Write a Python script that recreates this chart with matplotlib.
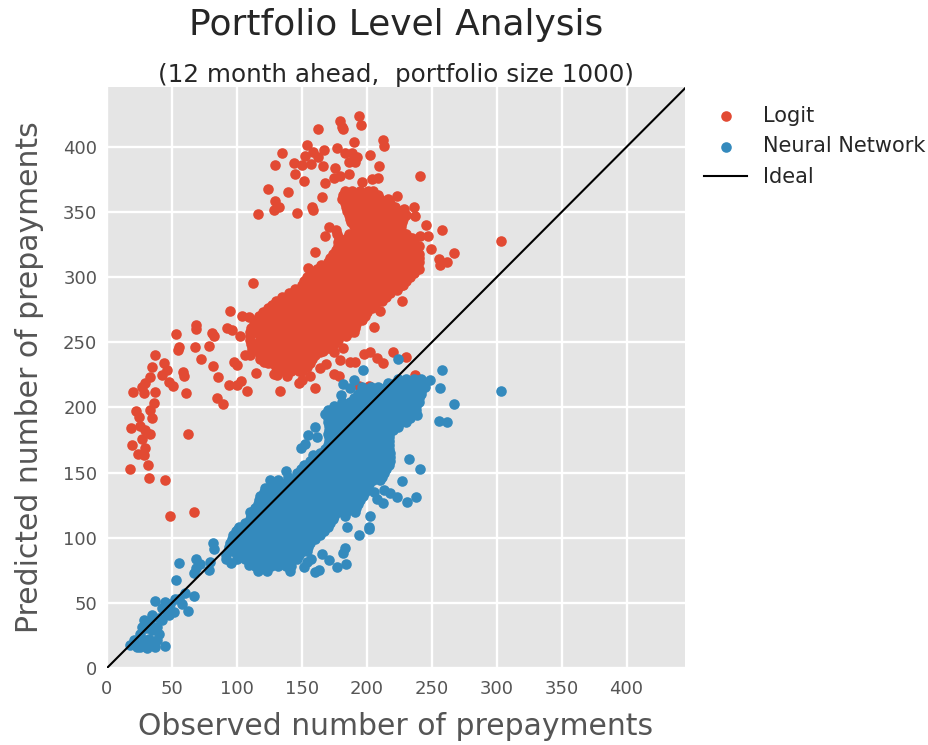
import matplotlib
matplotlib.use("Agg")
import matplotlib.pyplot as plt

# scattered points
logit_x = [193.8, 179.7, 195.6, 181.5, 181, 162.5, 212.6, 213.6, 190.5, 154, 177, 167.4, 134.5, 158.4, 152.8, 202.3,
           192.5, 188.7, 183.6, 129.7, 143.8, 150, 157.4, 166.4, 162.5, 175.4, 191.3, 186, 209.5, 144.5, 151.5, 186,
           179.7, 174.6, 168.2, 240.6, 209, 204, 196.4, 123.7, 139.4, 165.6, 129.7, 132.7, 128.4, 116.6, 146.3, 157.6,
           158.4, 223.6, 236.5, 237.5, 228.5, 245.4, 257.8, 241.3, 247, 249.5, 266.8, 255.5, 261.9, 256, 303.7, 168,
           170.7, 160.5, 154.8, 112.7, 227.5, 223.6, 210.5, 205.4, 94.5, 104, 109, 92.4, 96.3, 102.7, 68.5, 68.5,
           53.4, 80.9, 82.7, 55.2, 54.7, 67.5, 78.6, 72.7, 36.7, 43.6, 34.7, 81.6, 58.5, 59.6, 85.5, 46.2,
           42.4, 47.5, 50.8, 33.4, 29.5, 27, 20, 28.2, 37.2, 60.6, 94.2, 103.5, 100, 107.6, 84.7, 89.6,
           36, 22.3, 33.4, 24.4, 34.7, 18.5, 25.7, 29.5, 32.9, 27, 62.6, 19.5, 29.5, 23.6, 28.8, 31.6,
           17.5, 32.6, 44.7, 48.5, 66.8, 98, 100, 106.5, 114.5, 120.7, 128.4, 131, 133.5, 138.6, 147.6, 150,
           156.6, 160.5, 164.3, 168.7, 174.6, 181.5, 179.7, 174.6, 178.4, 187.4, 191, 197.7, 202.8, 208, 212.6, 220.3,
           230.5, 193.8, 201.5, 237.5, 164.3]
logit_y = [424, 420, 417, 413.5, 415, 414, 405, 401, 404, 401.5, 399.5, 398, 395, 396, 393, 393.6,
           392, 395, 395.6, 386, 388, 386, 386.7, 385.7, 392, 384, 388.5, 388.5, 385.4, 379, 374, 379,
           378, 376.5, 372, 377.5, 376.5, 375.7, 373, 368, 365.5, 361.6, 358.6, 353.5, 351.7, 348.3, 349.6, 354,
           351.7, 362, 353.5, 347, 352.7, 340, 336.6, 332, 331.5, 321.7, 318.7, 314.3, 311.3, 309, 327.6, 332,
           338.6, 319, 307, 295.4, 282, 290, 274, 262, 273.7, 270, 269.6, 261, 259.3, 254.7, 263.4, 260,
           256.3, 257.5, 255, 246.5, 244, 246.5, 247, 237, 240, 234.5, 231, 231.5, 227.4, 224.3, 223.5, 228.6,
           225, 219.7, 216.4, 223.5, 218.4, 216, 211.5, 210.8, 212, 211, 217, 220.5, 217, 212.8, 207.4, 202.8,
           203.3, 197.4, 197.7, 193, 191.8, 184, 185.4, 182.8, 179.7, 176, 180, 171, 168.7, 164.4, 163.6, 155.6,
           152.6, 146, 144.4, 116.4, 120, 235, 232.5, 240, 226.6, 235, 225.6, 225, 212.8, 224, 218.4, 221,
           224, 215.3, 230, 233.2, 242.7, 245.3, 236.3, 226, 224, 235, 235, 241.4, 242.7, 237.6, 233.8, 242.7,
           238.4, 216.6, 216.6, 225, 242.7]

nn_x = [223.9, 197.4, 257.8, 190.5, 181.8, 187, 180.5, 303.7, 266.8, 256, 249, 255.5, 261.9, 238.8, 223.9, 160.5,
        154.8, 149.4, 152.8, 161.7, 158.7, 137.6, 232.6, 240.6, 227.5, 237.7, 230.6, 223.4, 218.2, 213, 205.4, 212.6,
        208, 202.8, 201.5, 201.5, 193.8, 184.9, 183.6, 181.8, 165.6, 170.7, 177.2, 184.3, 160.5, 163, 151.5, 154,
        157.1, 140.7, 123.2, 116, 109.1, 95.5, 81.6, 82.7, 100.6, 110.4, 118, 125.8, 122, 68.8, 55.7, 79.6,
        71.9, 78.8, 67.3, 68.8, 53.4, 36.7, 44.9, 52.6, 60.3, 66.8, 57.8, 62.4, 51.3, 47.5, 42.4, 34.7,
        28.2, 27, 38.5, 39.8, 25.7, 32, 38.5, 20.5, 18, 25.7, 30.8, 37.2, 44.7, 28.2, 23, 36,
        43.6, 48.8, 55.2, 46, 39.8, 33, 30, 22, 42, 35]
nn_y = [237.2, 229, 229, 221.3, 217.7, 215, 209.7, 212.3, 202.3, 214.9, 221, 189.7, 189, 194.4, 184.9, 184.9,
        178.5, 169.2, 172, 177.7, 163.3, 151.5, 160.3, 152.8, 143.3, 131, 127.4, 131.5, 134, 136.7, 135.4, 126.4,
        130, 116.7, 108.5, 106.5, 101.8, 108.5, 91.8, 88, 87.2, 82.8, 77.7, 79.7, 73.8, 75, 77.7, 81.5,
        84, 74.6, 74.4, 74.4, 79, 80.8, 95.6, 91.3, 106.4, 120, 129, 144.4, 138, 83.6, 80.3, 81.5,
        79.7, 75.6, 72.6, 76.4, 67.4, 51.8, 50.8, 52.6, 57.2, 54.9, 49.5, 44.1, 43, 40.5, 36.7, 40.5,
        36.7, 31.5, 31.5, 26.4, 26.4, 22.6, 21.3, 21.3, 17.4, 16, 15, 16, 17, 21.3, 16, 20,
        47, 49.5, 53.3, 43, 38, 36, 31, 18, 46, 29]

# the two solid clouds, one row of observed values per predicted value
logit_row_y = [366, 363, 360, 357, 354, 351, 348, 345, 342, 339, 336, 333, 330, 327, 324, 321, 318, 315, 312, 309,
               306, 303, 300, 297, 294, 291, 288, 285, 282, 279, 276, 273, 270, 267, 264, 261, 258, 255, 252, 249,
               246, 243, 240, 237, 234, 231, 228]
logit_row_x = [
    [183, 189, 195, 201, 205],
    [182, 186, 192, 198, 204, 209],
    [181, 186, 192, 198, 204, 210, 216],
    [183, 189, 195, 201, 207, 213, 218],
    [184, 189, 195, 201, 207, 213, 219, 222],
    [185, 192, 198, 204, 210, 216, 222, 226],
    [186, 192, 198, 204, 210, 216, 222, 228, 230],
    [187, 195, 201, 207, 213, 219, 225, 228],
    [188, 195, 201, 207, 213, 219, 225, 227],
    [190, 198, 204, 210, 216, 222, 226],
    [176, 192, 198, 204, 210, 216, 222, 226],
    [177, 186, 195, 201, 207, 213, 219, 225, 230],
    [179, 185, 191, 197, 203, 209, 215, 221, 227, 233, 235],
    [178, 188, 194, 200, 206, 212, 218, 224, 230, 236],
    [178, 182, 188, 194, 200, 206, 212, 218, 224, 230, 236, 240],
    [176, 185, 191, 197, 203, 209, 215, 221, 227, 233, 238],
    [174, 179, 185, 191, 197, 203, 209, 215, 221, 227, 233, 239, 240],
    [172, 182, 188, 194, 200, 206, 212, 218, 224, 230, 236, 240],
    [170, 176, 182, 188, 194, 200, 206, 212, 218, 224, 230, 236, 240],
    [165, 173, 179, 185, 191, 197, 203, 209, 215, 221, 227, 233, 239],
    [162, 167, 173, 179, 185, 191, 197, 203, 209, 215, 221, 227, 233, 239, 240],
    [158, 164, 170, 176, 182, 188, 194, 200, 206, 212, 218, 224, 230, 236],
    [154, 160, 166, 172, 178, 184, 190, 196, 202, 208, 214, 220, 226, 232, 233],
    [152, 157, 163, 169, 175, 181, 187, 193, 199, 205, 211, 217, 223, 230],
    [150, 155, 161, 167, 173, 179, 185, 191, 197, 203, 209, 215, 221, 227, 228],
    [145, 152, 158, 164, 170, 176, 182, 188, 194, 200, 206, 212, 218, 223],
    [140, 146, 152, 158, 164, 170, 176, 182, 188, 194, 200, 206, 212, 218],
    [135, 143, 149, 155, 161, 167, 173, 179, 185, 191, 197, 203, 209, 215],
    [130, 137, 143, 149, 155, 161, 167, 173, 179, 185, 191, 197, 203, 209, 212],
    [127, 134, 140, 146, 152, 158, 164, 170, 176, 182, 188, 194, 200, 206],
    [124, 130, 136, 142, 148, 154, 160, 166, 172, 178, 184, 190, 196, 202, 204],
    [120, 127, 133, 139, 145, 151, 157, 163, 169, 175, 181, 187, 193, 200],
    [117, 121, 127, 133, 139, 145, 151, 157, 163, 169, 175, 181, 187, 193, 199],
    [115, 124, 130, 136, 142, 148, 154, 160, 166, 172, 178, 184, 190, 196],
    [113, 118, 124, 130, 136, 142, 148, 154, 160, 166, 172, 178, 184, 190, 192],
    [111, 121, 127, 133, 139, 145, 151, 157, 163, 169, 175, 181, 187, 191],
    [110, 115, 121, 127, 133, 139, 145, 151, 157, 163, 169, 175, 181, 187, 190],
    [110, 118, 124, 130, 136, 142, 148, 154, 160, 166, 172, 178, 184],
    [110, 118, 124, 130, 136, 142, 148, 154, 160, 166, 172, 178],
    [111, 115, 121, 127, 133, 139, 145, 151, 157, 163, 169, 175],
    [112, 115, 121, 127, 133, 139, 145, 151, 157, 163, 169, 172],
    [112, 118, 124, 130, 136, 142, 148, 154, 160, 166],
    [110, 118, 124, 130, 136, 142, 148, 154, 160],
    [118, 124, 130, 136, 142, 148, 154, 158],
    [124, 127, 133, 139, 145, 151, 156],
    [130, 136, 142, 148, 154],
    [136, 142, 148, 150],
]
nn_row_y = [222, 219, 216, 213, 210, 207, 204, 201, 198, 195, 192, 189, 186, 183, 180, 177, 174, 171, 168, 165,
            162, 159, 156, 153, 150, 147, 144, 141, 138, 135, 132, 129, 126, 123, 120, 117, 114, 111, 108, 105,
            102, 99, 96, 93, 90, 87, 84, 81, 78]
nn_row_x = [
    [224, 230, 236, 242],
    [216, 222, 228, 234, 240, 245],
    [196, 203, 209, 215, 221, 227, 233, 239, 245],
    [196, 206, 212, 218, 224, 230, 236, 242],
    [193, 200, 206, 212, 218, 224, 230, 236, 242],
    [190, 197, 203, 209, 215, 221, 227, 233, 240],
    [181, 187, 193, 199, 205, 211, 217, 223, 229, 235, 240],
    [175, 184, 190, 196, 202, 208, 214, 220, 226, 232, 238],
    [170, 178, 184, 190, 196, 202, 208, 214, 220, 226, 232, 238],
    [168, 175, 181, 187, 193, 199, 205, 211, 217, 223, 229, 236],
    [170, 175, 181, 187, 193, 199, 205, 211, 217, 223, 229, 233],
    [170, 178, 184, 190, 196, 202, 208, 214, 220, 226, 230],
    [171, 178, 184, 190, 196, 202, 208, 214, 220, 222],
    [171, 175, 181, 187, 193, 199, 205, 211, 217, 220],
    [170, 175, 181, 187, 193, 199, 205, 211, 217],
    [171, 178, 184, 190, 196, 202, 208, 214, 217],
    [171, 178, 184, 190, 196, 202, 208, 214, 217],
    [170, 175, 181, 187, 193, 199, 205, 211, 217],
    [168, 175, 181, 187, 193, 199, 205, 211, 217],
    [164, 172, 178, 184, 190, 196, 202, 208, 214, 218],
    [160, 166, 172, 178, 184, 190, 196, 202, 208, 214, 218],
    [156, 163, 169, 175, 181, 187, 193, 199, 205, 211, 218],
    [152, 157, 163, 169, 175, 181, 187, 193, 199, 205, 211, 217],
    [149, 154, 160, 166, 172, 178, 184, 190, 196, 202, 208, 215],
    [146, 154, 160, 166, 172, 178, 184, 190, 196, 202, 208, 213],
    [139, 151, 157, 163, 169, 175, 181, 187, 193, 199, 205, 212],
    [132, 139, 145, 151, 157, 163, 169, 175, 181, 187, 193, 199, 205, 210],
    [128, 136, 142, 148, 154, 160, 166, 172, 178, 184, 190, 196, 202],
    [125, 130, 136, 142, 148, 154, 160, 166, 172, 178, 184, 190, 196, 200],
    [121, 127, 133, 139, 145, 151, 157, 163, 169, 175, 181, 187, 193, 199],
    [118, 124, 130, 136, 142, 148, 154, 160, 166, 172, 178, 184, 190, 197],
    [117, 121, 127, 133, 139, 145, 151, 157, 163, 169, 175, 181, 187, 195],
    [116, 121, 127, 133, 139, 145, 151, 157, 163, 169, 175, 181, 187, 193],
    [114, 118, 124, 130, 136, 142, 148, 154, 160, 166, 172, 178, 184, 192],
    [112, 118, 124, 130, 136, 142, 148, 154, 160, 166, 172, 178, 184, 191],
    [111, 115, 121, 127, 133, 139, 145, 151, 157, 163, 169, 175, 183],
    [110, 115, 121, 127, 133, 139, 145, 151, 157, 163, 169, 174],
    [106, 112, 118, 124, 130, 136, 142, 148, 154, 160, 166, 172],
    [102, 106, 112, 118, 124, 130, 136, 142, 148, 154, 160, 166, 170],
    [99, 103, 109, 115, 121, 127, 133, 139, 145, 151, 157, 163, 167],
    [97, 103, 109, 115, 121, 127, 133, 139, 145, 151, 157, 164],
    [96, 100, 106, 112, 118, 124, 130, 136, 142, 148, 154, 160],
    [95, 100, 106, 112, 118, 124, 130, 136, 142, 148, 154, 156],
    [94, 97, 103, 109, 115, 121, 127, 133, 139, 145, 151, 155],
    [93, 97, 103, 109, 115, 121, 127, 133, 139, 145, 151, 154],
    [92, 100, 106, 112, 118, 124, 130, 136, 142, 148],
    [92, 100, 106, 112, 118, 124, 130, 136, 142, 146],
    [112, 118, 124, 130, 136, 142],
    [114, 120, 126, 132, 138, 142],
]

ticks = [0, 50, 100, 150, 200, 250, 300, 350, 400]
ideal = [0, 450]


def add_rows(xs, ys, row_y, row_x):
    for y, row in zip(row_y, row_x):
        xs = xs + row
        ys = ys + [y] * len(row)
    return xs, ys


logit_all_x, logit_all_y = add_rows(logit_x, logit_y, logit_row_y, logit_row_x)
nn_all_x, nn_all_y = add_rows(nn_x, nn_y, nn_row_y, nn_row_x)

fig = plt.figure(figsize=(9.29, 7.45), dpi=100)
ax = fig.add_axes([107 / 929, 1 - 668 / 745, 578 / 929, 581 / 745])
ax.set_facecolor("#E5E5E5")
ax.grid(True, color="white", linewidth=1.7)
ax.set_axisbelow(True)
for side in ax.spines.values():
    side.set_visible(False)

ax.scatter(logit_all_x, logit_all_y, s=58, color="#E24A33", linewidths=0, label="Logit")
ax.scatter(nn_all_x, nn_all_y, s=58, color="#348ABD", linewidths=0, label="Neural Network")
ax.plot(ideal, ideal, color="black", linewidth=1.5, label="Ideal")

ax.set_xlim(0, 445)
ax.set_ylim(0, 446)
ax.set_xticks(ticks)
ax.set_yticks(ticks)
ax.tick_params(length=0, labelsize=13, labelcolor="#555555")
ax.tick_params(axis="x", pad=9)
ax.tick_params(axis="y", pad=7)
ax.set_xlabel("Observed number of prepayments", fontsize=21.5, color="#555555", labelpad=9.5)
ax.set_ylabel("Predicted number of prepayments", fontsize=21.5, color="#555555", labelpad=14)

ax.set_title("(12 month ahead,  portfolio size 1000)", fontsize=17.7, color="#262626", pad=3.8)
fig.text(396 / 929, 1 - 25 / 745, "Portfolio Level Analysis", fontsize=25.9, color="#262626", ha="center", va="center")

leg = ax.legend(loc="upper left", bbox_to_anchor=(1.008, 0.993), frameon=False, scatterpoints=1, fontsize=15,
                handlelength=2.07, labelspacing=0.52, handletextpad=0.77, borderaxespad=0.3)
for t in leg.get_texts():
    t.set_color("#262626")

fig.savefig("out.png", dpi=100)
